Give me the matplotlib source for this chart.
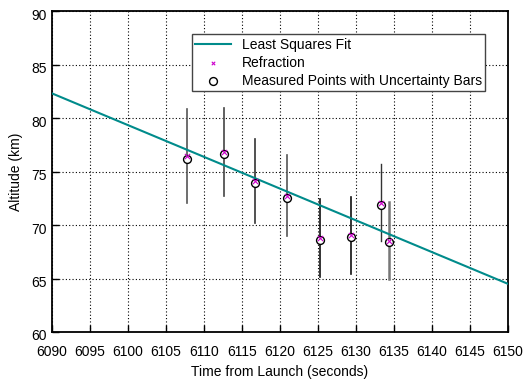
import numpy as np
import matplotlib.pyplot as plt
from matplotlib.transforms import ScaledTranslation

plt.rcParams['font.family'] = ['Liberation Sans', 'DejaVu Sans']

# ---------- data ----------
time_s = [6107.7, 6112.6, 6116.75, 6120.95, 6125.3, 6129.4, 6133.3, 6134.3]
measured_km = [76.2, 76.6, 73.9, 72.55, 68.6, 68.9, 71.9, 68.4]
refraction_km = [76.45, 76.85, 74.1, 72.75, 68.75, 69.05, 72.1, 68.55]
uncert_km = [4.4, 4.1, 3.95, 3.75, 3.65, 3.6, 3.6, 3.6]
fit_t = [6090, 6150]
fit_km = [82.3, 64.5]

bar_colors = ["#555555", "#444444", "#333333", "#555555",
              "#111111", "#111111", "#333333", "#777777"]
bar_widths = [1.2, 1.2, 1.2, 1.2, 1.2, 1.2, 1.0, 1.8]

fig = plt.figure(figsize=(5.26, 3.79), dpi=100)
ax = fig.add_axes([52/526, 1 - 332/379, 456/526, 321/379])

for t, y, e, c, w in zip(time_s, refraction_km, uncert_km, bar_colors, bar_widths):
    ax.plot([t, t], [y - e, y + e], color=c, lw=w, zorder=2)

ax.plot(fit_t, fit_km, color="#008b8b", lw=1.5, zorder=3,
        label="Least Squares Fit")
ax.scatter(time_s, refraction_km, marker="x", s=14, color="#cc00cc",
           linewidths=0.8, zorder=5, label="Refraction")
ax.scatter(time_s, measured_km, marker="o", s=32, facecolors="white",
           edgecolors="black", linewidths=1.0, zorder=4,
           label="Measured Points with Uncertainty Bars")

ax.set_xlim(6090, 6150)
ax.set_ylim(60, 90)
ax.set_xticks(np.arange(6090, 6151, 5))
ax.set_yticks(np.arange(60, 91, 5))
ax.grid(True, color="black", linestyle=(0, (1, 2)), lw=0.8)
ax.tick_params(direction="in", length=5, labelsize=10, width=1)
ax.tick_params(axis="x", pad=9)
for s in ax.spines.values():
    s.set_linewidth(1.3)

# y tick labels sit a little low, as in the original
shift = ScaledTranslation(0, -3/100, fig.dpi_scale_trans)
for lbl in ax.get_yticklabels():
    lbl.set_transform(lbl.get_transform() + shift)

ax.set_xlabel("Time from Launch (seconds)", fontsize=10, labelpad=5)
ax.set_ylabel("Altitude (km)", fontsize=10, labelpad=6)

handles, labels = ax.get_legend_handles_labels()
leg = ax.legend(handles, labels, loc="upper right", bbox_to_anchor=(0.95, 0.928),
                fontsize=10, frameon=True, fancybox=False, framealpha=1,
                edgecolor="#444444", borderpad=0.25, labelspacing=0.3,
                handlelength=2.6, handletextpad=0.75, borderaxespad=0)
leg.get_frame().set_linewidth(1.0)
leg.legend_handles[1].set_sizes([6])

fig.savefig("out.png", dpi=100)
